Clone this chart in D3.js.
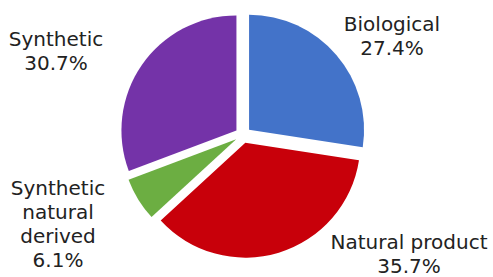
<!DOCTYPE html>
<html>
<head>
<meta charset="utf-8">
<script src="https://cdn.jsdelivr.net/npm/d3@7"></script>
<style>
  body { margin: 0; background: #fff; }
  svg text { font-family: "DejaVu Sans", Verdana, sans-serif; font-size: 20px; fill: #222; }
</style>
</head>
<body>
<div class="container"></div>
<script>
// chart data
const categories = ["Biological", "Natural product", "Synthetic natural derived", "Synthetic"];
const shares = [27.4, 35.7, 6.1, 30.7];
const labelLines = [
  ["Biological", "27.4%"],
  ["Natural product", "35.7%"],
  ["Synthetic", "natural", "derived", "6.1%"],
  ["Synthetic", "30.7%"]
];
const colors = ["#4373c9", "#c8000a", "#6cae42", "#7433a8"];

// size and layout
var width = 493,
  height = 277,
  cx = 243,
  cy = 135,
  radius = 115,
  explode = 8;

// label anchor points (center x, first baseline)
const labelPos = [[392, 31], [409, 249], [58, 195], [56, 46]];

const svg = d3.select(".container")
  .append("svg")
  .attr("width", width)
  .attr("height", height);

const pie = d3.pie().sort(null).value(d => d);
const arc = d3.arc().innerRadius(0).outerRadius(radius);
const slices = pie(shares);

const g = svg.append("g").attr("transform", "translate(" + cx + "," + cy + ")");

g.selectAll("path")
  .data(slices)
  .enter()
  .append("path")
  .attr("d", arc)
  .attr("fill", (d, i) => colors[i])
  .attr("transform", d => {
    const mid = (d.startAngle + d.endAngle) / 2;
    return "translate(" + (Math.sin(mid) * explode) + "," + (-Math.cos(mid) * explode) + ")";
  });

// labels
const labels = svg.selectAll("text.lbl")
  .data(categories)
  .enter()
  .append("text")
  .attr("class", "lbl")
  .attr("text-anchor", "middle")
  .attr("x", (d, i) => labelPos[i][0])
  .attr("y", (d, i) => labelPos[i][1]);

labels.each(function (d, i) {
  const t = d3.select(this);
  labelLines[i].forEach((line, j) => {
    t.append("tspan")
      .attr("x", labelPos[i][0])
      .attr("dy", j === 0 ? 0 : 24)
      .text(line);
  });
});
</script>
</body>
</html>
